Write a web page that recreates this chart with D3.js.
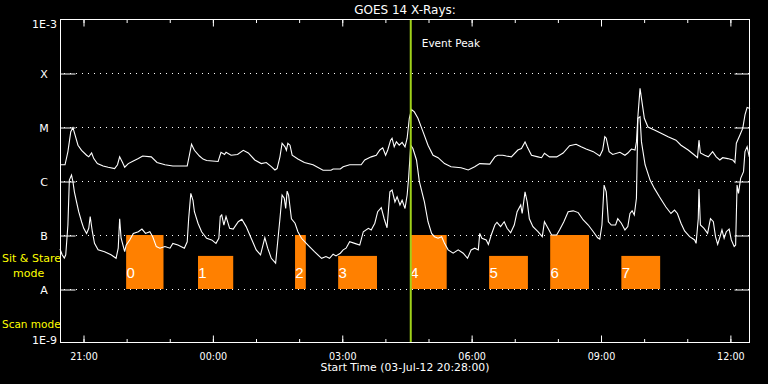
<!DOCTYPE html>
<html><head><meta charset="utf-8">
<script src="https://cdn.jsdelivr.net/npm/d3@7"></script>
<style>body{margin:0;background:#000;} svg{display:block;}</style>
</head><body>
<svg id="chart" width="768" height="384"></svg>
<script>
// ---- data ----
const title = "GOES 14 X-Rays:";
const xAxisTitle = "Start Time (03-Jul-12 20:28:00)";
const startTime = new Date(2012, 6, 3, 20, 28, 0);
const spanMinutes = 960;
const levelValues = [1e-9, 1e-8, 1e-7, 1e-6, 1e-5, 1e-4, 1e-3];
const levelLabels = ["1E-9", "A", "B", "C", "M", "X", "1E-3"];
const timeTickLabels = ["21:00", "00:00", "03:00", "06:00", "09:00", "12:00"];

// 1-8 A channel (minutes after start, W/m^2)
const longMinutes = [0,7,11,15,18,21,25,30,37,40,44,47,52,60,67,76,80,83,87,90,95,102,109,115,127,135,146,157,177,180,183,187,194,199,204,220,222,224,229,231,238,247,255,262,271,280,287,294,299,302,306,309,313,315,317,320,323,331,340,352,366,377,380,390,394,403,419,424,433,440,445,449,453,456,460,462,465,468,472,476,480,483,486,489,493,498,505,512,519,526,535,544,558,568,577,584,598,605,609,616,621,628,637,642,647,650,656,665,670,674,681,691,700,709,718,725,732,742,751,755,758,760,764,769,779,786,790,795,800,802,804,807,809,813,818,827,837,846,857,864,874,883,887,889,891,897,902,908,913,918,922,929,936,939,941,946,950,953,956,960];
const longFlux = [2.0e-6,2.0e-6,3.5e-6,8.2e-6,9.7e-6,7.1e-6,4.6e-6,3.7e-6,3.0e-6,2.8e-6,3.3e-6,2.6e-6,2.1e-6,1.9e-6,1.8e-6,1.7e-6,2.0e-6,2.8e-6,2.2e-6,1.8e-6,2.1e-6,2.35e-6,2.6e-6,2.9e-6,2.8e-6,2.2e-6,2.0e-6,1.9e-6,1.9e-6,3.0e-6,4.8e-6,3.7e-6,2.9e-6,2.55e-6,2.4e-6,2.3e-6,2.8e-6,3.4e-6,3.1e-6,3.4e-6,3.0e-6,3.1e-6,3.7e-6,3.3e-6,2.45e-6,2.1e-6,2.2e-6,1.84e-6,1.6e-6,1.7e-6,2.8e-6,5.0e-6,4.3e-6,3.7e-6,5.0e-6,4.6e-6,3.0e-6,2.55e-6,2.2e-6,2.0e-6,1.58e-6,1.58e-6,1.67e-6,1.67e-6,1.84e-6,2.0e-6,2.0e-6,2.45e-6,2.8e-6,3.0e-6,3.75e-6,4.1e-6,3.0e-6,3.75e-6,5.7e-6,6.2e-6,4.3e-6,5.3e-6,4.6e-6,5.2e-6,4.3e-6,6.2e-6,1.45e-5,2.1e-5,1.9e-5,1.45e-5,8.2e-6,4.6e-6,3.0e-6,2.7e-6,2.1e-6,1.84e-6,1.76e-6,1.6e-6,1.84e-6,2.1e-6,2.05e-6,2.8e-6,3.0e-6,3.0e-6,2.9e-6,2.8e-6,3.75e-6,4.0e-6,5.3e-6,4.3e-6,3.0e-6,2.8e-6,2.7e-6,3.26e-6,2.8e-6,2.8e-6,3.3e-6,4.5e-6,4.8e-6,4.3e-6,3.9e-6,3.5e-6,2.9e-6,3.75e-6,6.6e-6,6.2e-6,3.5e-6,3.1e-6,3.4e-6,3.0e-6,3.3e-6,3.9e-6,3.75e-6,5.3e-6,1.55e-5,5.2e-5,3.4e-5,1.45e-5,1.0e-5,8.8e-6,7.6e-6,6.6e-6,5.7e-6,4.6e-6,3.75e-6,3.0e-6,2.7e-6,5.7e-6,3.3e-6,3.0e-6,2.8e-6,3.5e-6,2.8e-6,2.45e-6,2.7e-6,2.6e-6,2.45e-6,2.2e-6,5.0e-6,7.1e-6,9.5e-6,1.67e-5,2.3e-5,2.2e-5];

// 0.5-4 A channel
const shortMinutes = [0,3,6,8,11,13,16,18,20,23,26,30,33,37,40,42,45,48,53,62,71,78,81,83,85,90,92,97,102,109,114,119,125,129,134,139,146,153,157,164,173,177,179,182,185,187,192,197,204,211,217,221,223,225,228,231,236,241,248,253,259,266,273,279,285,289,294,300,302,306,309,312,314,316,318,322,327,331,336,345,354,364,370,375,380,384,390,394,398,403,410,417,422,429,433,438,442,447,451,455,459,462,466,469,473,476,480,483,485,488,491,496,500,507,512,517,521,526,531,535,540,547,554,561,567,572,577,582,584,587,593,596,600,605,608,613,618,622,627,632,636,641,643,647,650,653,658,665,671,674,679,684,691,695,701,707,714,721,728,735,742,748,751,754,757,760,763,767,773,776,781,786,790,793,796,799,802,804,807,809,814,821,827,834,843,850,855,859,864,869,876,883,885,888,889,891,896,901,905,909,912,915,919,921,924,927,931,934,938,940,942,944,947,951,953,956,959];
const shortFlux = [5.5e-8,4.3e-8,3.75e-8,4.3e-8,1.53e-7,1.04e-6,1.29e-6,9.7e-7,6.3e-7,4.1e-7,2.7e-7,1.76e-7,1.33e-7,1.07e-7,1.33e-7,2.2e-7,1.15e-7,7.0e-8,5.3e-8,4.9e-8,4.3e-8,3.7e-8,5.7e-8,2.0e-7,8.7e-8,4.9e-8,6.5e-8,8.1e-8,1.07e-7,1.15e-7,1.29e-7,1.07e-7,1.15e-7,9.3e-8,6.1e-8,5.7e-8,6.1e-8,5.7e-8,7.0e-8,6.5e-8,5.7e-8,7.5e-8,2.0e-7,5.9e-7,4.4e-7,2.7e-7,1.65e-7,1.15e-7,8.7e-8,8.1e-8,7.0e-8,8.7e-8,2.2e-7,2.35e-7,1.53e-7,2.2e-7,1.33e-7,1.29e-7,1.76e-7,1.95e-7,1.43e-7,8.7e-8,5.3e-8,4.3e-8,8.9e-8,5.7e-8,3.7e-8,3.0e-8,5.7e-8,2.0e-7,5.5e-7,4.8e-7,3.1e-7,6.5e-7,5.5e-7,2.0e-7,1.65e-7,1.15e-7,8.7e-8,6.5e-8,4.9e-8,3.7e-8,4.0e-8,3.7e-8,4.4e-8,4.1e-8,4.6e-8,5.3e-8,5.7e-8,7.5e-8,7.0e-8,6.5e-8,1.15e-7,1.33e-7,1.24e-7,1.65e-7,2.7e-7,3.2e-7,2.0e-7,1.36e-7,6.3e-7,6.8e-7,4.1e-7,5.1e-7,3.6e-7,4.4e-7,3.1e-7,5.5e-7,1.12e-6,4.6e-6,4.0e-6,2.45e-6,9.7e-7,4.1e-7,1.76e-7,1.07e-7,9.3e-8,8.7e-8,9.3e-8,7.0e-8,5.3e-8,4.6e-8,5.3e-8,4.6e-8,3.7e-8,5.3e-8,5.7e-8,5.3e-8,1.07e-7,8.7e-8,8.1e-8,6.7e-8,1.0e-7,1.53e-7,1.72e-7,1.43e-7,1.76e-7,1.33e-7,1.1e-7,1.53e-7,2.7e-7,3.6e-7,2.5e-7,6.3e-7,4.1e-7,2.0e-7,1.43e-7,1.15e-7,9.3e-8,1.76e-7,1.33e-7,1.0e-7,1.0e-7,1.24e-7,1.76e-7,2.7e-7,2.8e-7,2.6e-7,1.9e-7,1.53e-7,1.15e-7,8.9e-8,8.4e-8,1.53e-7,8.4e-7,6.3e-7,1.76e-7,1.53e-7,1.53e-7,2.0e-7,1.65e-7,1.24e-7,1.43e-7,2.5e-7,2.8e-7,2.35e-7,4.8e-7,1.45e-5,1.55e-5,5.3e-6,2.0e-6,1.04e-6,7.3e-7,5.1e-7,3.3e-7,2.5e-7,2.9e-7,2.5e-7,1.65e-7,1.19e-7,9.3e-8,8.1e-8,7.0e-8,2.0e-7,7.1e-7,1.53e-7,1.33e-7,1.07e-7,2.0e-7,1.76e-7,9.3e-8,6.7e-8,1.0e-7,1.24e-7,8.7e-8,1.15e-7,1.29e-7,8.1e-8,6.1e-8,6.5e-8,8.4e-7,5.9e-7,1.12e-6,1.49e-6,3.5e-6,4.3e-6,2.8e-6];

// observation blocks
const blockLabels = ["0","1","2","3","4","5","6","7"];
const blockStart = [92,192,327,387,487,597,682,781];
const blockEnd = [144,241,342,441,538,651,736,835];
const blockTop = [1e-7,4.1e-8,1e-7,4.1e-8,1e-7,4.1e-8,1e-7,4.1e-8];
const blockBottom = 1e-8;

const eventPeakMinute = 488;
const modeLabels = ["Sit & Stare", "mode", "Scan mode"];

// ---- drawing ----
const svg = d3.select("#chart");
svg.append("rect").attr("width", 768).attr("height", 384).attr("fill", "#000");
const L = 60, R = 750, T = 19, B = 343;
const tAt = m => d3.timeMinute.offset(startTime, m);
const x = d3.scaleTime().domain([startTime, tAt(spanMinutes)]).range([L, R]);
const y = d3.scaleLog().domain([1e-9, 1e-3]).range([B, T]);
const font = "'DejaVu Sans', sans-serif";

// dotted grid
svg.append("g").selectAll("line").data(levelValues.slice(1, -1)).join("line")
  .attr("x1", L).attr("x2", R).attr("y1", d => Math.round(y(d)) + 0.5).attr("y2", d => Math.round(y(d)) + 0.5)
  .attr("stroke", "#fff").attr("stroke-width", 1).attr("stroke-dasharray", "1,5").attr("stroke-dashoffset", -4);

// blocks
const blocks = svg.append("g");
blocks.selectAll("rect").data(blockLabels).join("rect")
  .attr("x", (d, i) => x(tAt(blockStart[i])))
  .attr("width", (d, i) => x(tAt(blockEnd[i])) - x(tAt(blockStart[i])))
  .attr("y", (d, i) => y(blockTop[i]))
  .attr("height", (d, i) => y(blockBottom) - y(blockTop[i]))
  .attr("fill", "#ff8000");

// curves
const line = d3.line().x(d => x(tAt(d[0]))).y(d => y(d[1]));
svg.append("path").datum(longMinutes.map((m, i) => [m, longFlux[i]]))
  .attr("d", line).attr("fill", "none").attr("stroke", "#fff").attr("stroke-width", 1.1);
svg.append("path").datum(shortMinutes.map((m, i) => [m, shortFlux[i]]))
  .attr("d", line).attr("fill", "none").attr("stroke", "#fff").attr("stroke-width", 1.1);

// block labels
blocks.selectAll("text").data(blockLabels).join("text")
  .attr("x", (d, i) => x(tAt(blockStart[i])) + 0.3)
  .attr("y", 277.5)
  .attr("fill", "#fff").attr("font-family", "'Liberation Sans', sans-serif").attr("font-size", 15)
  .text(d => d);

// event peak line
const xp = x(tAt(eventPeakMinute));
svg.append("line").attr("x1", xp).attr("x2", xp).attr("y1", T).attr("y2", B)
  .attr("stroke", "#9fd11a").attr("stroke-width", 2);
svg.append("text").attr("x", xp + 11).attr("y", 47).attr("fill", "#fff")
  .attr("font-family", font).attr("font-size", 10.5).text("Event Peak");

// frame
svg.append("rect").attr("x", L + 0.5).attr("y", T + 0.5).attr("width", R - L - 1).attr("height", B - T - 1)
  .attr("fill", "none").attr("stroke", "#fff").attr("stroke-width", 1);

// y ticks left & right
const yAxL = d3.axisLeft(y).tickValues(levelValues.slice(1, -1)).tickSize(-15).tickFormat("");
const gl = svg.append("g").attr("transform", `translate(${L + 0.5},0.5)`).call(yAxL);
const yAxR = d3.axisRight(y).tickValues(levelValues.slice(1, -1)).tickSize(-15).tickFormat("");
const gr = svg.append("g").attr("transform", `translate(${R - 0.5},0.5)`).call(yAxR);
[gl, gr].forEach(g => { g.select(".domain").remove(); g.selectAll("line").attr("stroke", "#fff"); });

// y labels
svg.append("g").selectAll("text").data(levelValues).join("text")
  .attr("x", (d, i) => (i === 0 || i === levelValues.length - 1) ? 57 : 44)
  .attr("y", (d, i) => i === 0 ? y(d) + 1 : (i === levelValues.length - 1 ? y(d) + 8.5 : y(d) + 5))
  .attr("text-anchor", (d, i) => (i === 0 || i === levelValues.length - 1) ? "end" : "middle")
  .attr("fill", "#fff").attr("font-family", font).attr("font-size", 11)
  .text((d, i) => levelLabels[i]);

// x axes
const hours3 = d3.timeHour.every(3), hours1 = d3.timeHour.every(1);
function styleAxis(g) { g.select(".domain").remove(); g.selectAll("line").attr("stroke", "#fff"); }
const xb = svg.append("g").attr("transform", `translate(0.5,${B - 0.5})`)
  .call(d3.axisBottom(x).ticks(hours3).tickSize(-7).tickFormat((d, i) => timeTickLabels[i]));
styleAxis(xb);
xb.selectAll("text").attr("y", 17).attr("dy", null).attr("fill", "#fff")
  .attr("font-family", font).attr("font-size", 9.6);
const xbm = svg.append("g").attr("transform", `translate(0.5,${B - 0.5})`)
  .call(d3.axisBottom(x).ticks(hours1).tickSize(-3.5).tickFormat(""));
styleAxis(xbm);
const xt = svg.append("g").attr("transform", `translate(0.5,${T + 0.5})`)
  .call(d3.axisTop(x).ticks(hours3).tickSize(-7).tickFormat(""));
styleAxis(xt);
const xtm = svg.append("g").attr("transform", `translate(0.5,${T + 0.5})`)
  .call(d3.axisTop(x).ticks(hours1).tickSize(-3.5).tickFormat(""));
styleAxis(xtm);

// titles
svg.append("text").attr("x", (L + R) / 2).attr("y", 14).attr("text-anchor", "middle")
  .attr("fill", "#fff").attr("font-family", font).attr("font-size", 12).text(title);
svg.append("text").attr("x", (L + R) / 2).attr("y", 371).attr("text-anchor", "middle")
  .attr("fill", "#fff").attr("font-family", font).attr("font-size", 10.8).text(xAxisTitle);

// mode labels
const modeG = svg.append("g").attr("fill", "#ffff00").attr("font-family", font).attr("font-size", 11);
modeG.append("text").attr("x", 2).attr("y", 262).text(modeLabels[0]);
modeG.append("text").attr("x", 13).attr("y", 276.5).text(modeLabels[1]);
modeG.append("text").attr("x", 2).attr("y", 328).attr("font-size", 10.5).text(modeLabels[2]);
</script>
</body></html>
